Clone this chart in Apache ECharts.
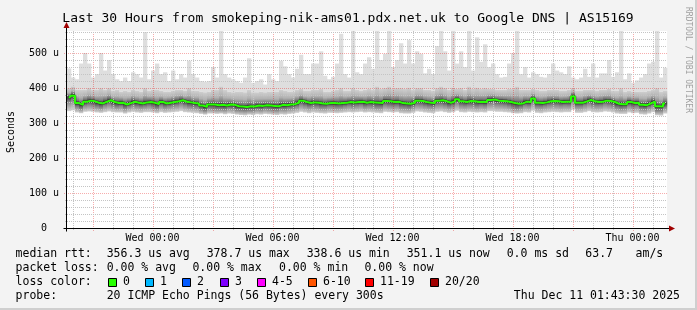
<!DOCTYPE html>
<html><head><meta charset="utf-8">
<script src="https://cdn.jsdelivr.net/npm/echarts@6/dist/echarts.min.js"></script>
<style>html,body{margin:0;padding:0;background:#f3f3f3}#c{width:697px;height:310px}</style>
</head><body><div id="c"></div>
<script>
// time axis: hours counted from Tue 00:00; window = Tue 19:43:30 .. Thu 01:43:30
const START_HOUR = 19.725;
const END_HOUR = 49.725;
const STEP_HOURS = 0.2;
const Y_MAX = 563;

// median rtt (microseconds) per 12-minute slot
const median = [
372,378,357,352,361,364,362,358,356,361,365,360,357,358,353,357,361,358,356,359,360,358,354,360,356,
358,360,362,365,361,359,357,356,350,346,353,353,351,352,350,353,352,348,347,346,348,347,350,349,351,
350,349,348,352,351,353,354,358,364,360,357,359,358,356,355,357,357,356,357,358,360,359,360,361,358,
360,359,358,357,363,362,360,361,357,356,355,358,364,363,360,358,357,364,365,362,358,362,368,362,360,
363,362,360,361,360,366,367,364,363,362,360,357,355,356,361,360,370,358,357,359,362,363,362,360,361,
361,376,358,358,362,366,362,360,361,364,363,360,355,354,354,360,357,358,352,351,356,361,348,347,356];

// upper edge of the dense (dark) smoke
const smokeUpper = [
400,405,395,395,395,400,395,395,400,395,400,392,395,390,392,390,395,392,390,400,392,395,395,392,390,
390,392,395,395,392,400,392,392,390,388,390,395,395,405,395,390,388,390,390,388,395,388,388,390,388,
390,390,390,395,392,390,390,395,398,392,392,395,395,398,390,390,392,395,400,392,392,400,395,392,395,
398,395,405,398,400,405,398,400,400,398,402,395,400,400,395,395,392,400,405,400,395,402,398,400,395,
405,398,402,398,400,398,398,395,395,395,398,398,405,395,395,395,398,395,392,392,395,395,395,392,392,
395,400,392,392,395,395,395,392,395,395,398,392,392,400,390,392,390,390,390,390,392,395,400,390,392];

// highest ping (light smoke top)
const smokeMax = [
456,430,425,470,500,470,430,440,500,450,480,440,425,420,430,420,445,440,430,560,425,450,470,440,445,
420,450,425,440,430,478,440,430,420,418,420,460,430,565,440,430,425,420,415,430,485,415,420,425,410,
440,425,420,478,462,440,430,455,495,440,440,470,470,505,435,425,432,470,555,440,430,565,445,440,470,
488,455,565,480,498,565,460,480,528,470,537,470,505,498,442,455,440,520,565,505,450,565,470,505,460,
565,450,545,475,525,460,470,440,430,432,470,500,565,440,460,430,445,440,432,430,440,470,450,445,440,
462,430,425,430,455,432,470,430,442,442,480,432,445,565,425,442,415,422,430,440,470,475,565,430,458];

// lowest ping (smoke bottom)
const smokeMin = [
334,336,330,328,332,333,332,330,329,331,333,331,330,330,327,330,332,330,329,331,331,330,328,331,329,
330,331,332,334,331,330,329,328,326,324,327,327,326,327,325,327,326,324,323,322,324,323,325,324,326,
325,324,323,325,324,326,327,329,332,330,328,330,329,328,327,329,329,328,329,330,331,330,331,332,330,
331,330,329,328,332,331,330,331,328,327,327,329,333,332,330,329,328,332,333,331,329,331,335,331,330,
332,331,330,331,330,334,334,332,332,331,330,328,327,328,331,330,335,329,328,330,331,332,331,330,331,
331,338,329,329,331,334,331,330,331,333,332,330,327,326,326,330,328,329,325,324,327,331,322,321,327];

const xTickHours = [24, 30, 36, 42, 48];
const xTickLabels = ['Wed 00:00', 'Wed 06:00', 'Wed 12:00', 'Wed 18:00', 'Thu 00:00'];
const yTickValues = [0, 100, 200, 300, 400, 500];
const yTickLabels = ['0  ', '100 u', '200 u', '300 u', '400 u', '500 u'];

const lossColors = ['#26ff00', '#00b8ff', '#0059ff', '#7e00ff', '#ff00ff', '#ff5500', '#ff0000', '#a10000'];
const lossLabels = ['0', '1', '2', '3', '4-5', '6-10', '11-19', '20/20'];

const titleText = 'Last 30 Hours from smokeping-nik-ams01.pdx.net.uk to Google DNS | AS15169';
const statsRtt = ['median rtt:', '356.3 us avg', '378.7 us max', '338.6 us min', '351.1 us now', '0.0 ms sd', '63.7', 'am/s'];
const statsLoss = ['packet loss:', '0.00 % avg', '0.00 % max', '0.00 % min', '0.00 % now'];
const probeText = ['probe:', '20 ICMP Echo Pings (56 Bytes) every 300s', 'Thu Dec 11 01:43:30 2025'];

const MONO = '"DejaVu Sans Mono", monospace';

// ---------- build series data ----------
const slotX = median.map((_, i) => START_HOUR + (i + 0.5) * STEP_HOURS);
const smokeData = median.map((m, i) => [slotX[i], smokeMin[i], m, smokeUpper[i], smokeMax[i]]);
const medianData = median.map((m, i) => [slotX[i], m]);

const vGrid = [];
for (let h = Math.ceil(START_HOUR); h <= END_HOUR; h++) vGrid.push([h, h % 3 === 0 ? 1 : 0]);
const hGrid = [];
for (let v = 20; v <= Y_MAX; v += 20) hGrid.push([v, v % 100 === 0 ? 1 : 0]);

const crisp = p => Math.round(p) + 0.5;

function renderSmoke(params, api) {
  const x = api.value(0), lo = api.value(1), med = api.value(2), up = api.value(3), hi = api.value(4);
  const w = api.size([STEP_HOURS, 0])[0];
  const top = params.coordSys.y;
  const pHi = api.coord([x, hi]), pUp = api.coord([x, up]), pLo = api.coord([x, lo]), pMed = api.coord([x, med]);
  const left = pHi[0] - w / 2;
  const yHi = Math.max(pHi[1], top);
  const f = Math.min(0.95, Math.max(0.05, (pMed[1] - pUp[1]) / (pLo[1] - pUp[1])));
  const grad = new echarts.graphic.LinearGradient(0, 0, 0, 1, [
    { offset: 0, color: '#d0d0d0' },
    { offset: f * 0.5, color: '#b2b2b2' },
    { offset: Math.max(f - 0.12, f * 0.6), color: '#7c7c7c' },
    { offset: f, color: '#444444' },
    { offset: Math.min(f + 0.18, 0.97), color: '#8a8a8a' },
    { offset: 1, color: '#d4d4d4' }
  ]);
  return { type: 'group', children: [
    { type: 'rect', shape: { x: left, y: yHi, width: w + 0.3, height: pUp[1] - yHi }, style: { fill: '#dedede' } },
    { type: 'rect', shape: { x: left, y: pUp[1], width: w + 0.3, height: pLo[1] - pUp[1] }, style: { fill: grad } }
  ] };
}

function renderVGrid(params, api) {
  const h = api.value(0), major = api.value(1);
  const p0 = api.coord([h, 0]), p1 = api.coord([h, Y_MAX]);
  const x = crisp(p0[0]);
  return { type: 'line', shape: { x1: x, y1: p0[1] + (major ? 3 : 2), x2: x, y2: p1[1] },
    style: { stroke: major ? 'rgba(230,0,0,0.32)' : '#c4c4c4', lineWidth: 1, lineDash: [1, 1] } };
}
function renderHGrid(params, api) {
  const v = api.value(0), major = api.value(1);
  const p0 = api.coord([START_HOUR, v]), p1 = api.coord([END_HOUR, v]);
  const y = crisp(p0[1]);
  return { type: 'line', shape: { x1: p0[0] - (major ? 3 : 2), y1: y, x2: p1[0], y2: y },
    style: { stroke: major ? 'rgba(230,0,0,0.32)' : '#c4c4c4', lineWidth: 1, lineDash: [1, 1] } };
}
function renderFrame(params, api) {
  const o = api.coord([START_HOUR, 0]);
  const xe = api.coord([END_HOUR, 0]);
  const ye = api.coord([START_HOUR, Y_MAX]);
  const ox = crisp(o[0]) - 1, oy = crisp(o[1]);
  return { type: 'group', children: [
    { type: 'line', shape: { x1: ox - 3, y1: oy, x2: xe[0] + 3, y2: oy }, style: { stroke: '#000', lineWidth: 1 } },
    { type: 'line', shape: { x1: ox, y1: oy + 3, x2: ox, y2: ye[1] - 4 }, style: { stroke: '#000', lineWidth: 1 } },
    { type: 'polygon', shape: { points: [[xe[0] + 2, oy - 3], [xe[0] + 8, oy], [xe[0] + 2, oy + 3]] }, style: { fill: '#a00000' } },
    { type: 'polygon', shape: { points: [[ox - 3, ye[1] - 3], [ox, ye[1] - 9], [ox + 3, ye[1] - 3]] }, style: { fill: '#a00000' } }
  ] };
}

// ---------- legend graphics ----------
const graphics = [];
const txt = (text, x, y, size, align, extra) => graphics.push(Object.assign({
  type: 'text', x: x, y: y, silent: true,
  style: { text: text, font: size + 'px ' + MONO, fill: '#000', align: align || 'left', verticalAlign: 'middle' }
}, extra || {}));

txt(titleText, 348, 19, 13, 'center');
graphics.push({ type: 'text', x: 11, y: 132, rotation: Math.PI / 2, silent: true,
  style: { text: 'Seconds', font: '10px ' + MONO, fill: '#000', align: 'center', verticalAlign: 'middle' } });
graphics.push({ type: 'text', x: 688, y: 60, rotation: -Math.PI / 2, silent: true,
  style: { text: 'RRDTOOL / TOBI OETIKER', font: '8px ' + MONO, fill: '#a0a0a0', align: 'center', verticalAlign: 'middle' } });

const rttX = [15.6, 106.7, 206.7, 306.7, 406.7, 506.7, 585.3, 635.6];
statsRtt.forEach((t, i) => txt(t, rttX[i], 254.5, 11.5));
const lossX = [15.6, 106.7, 192.4, 279, 364.4];
statsLoss.forEach((t, i) => txt(t, lossX[i], 268.5, 11.5));
txt('loss color:', 15.6, 282.5, 11.5);
const sqX = [108, 145, 182, 219.5, 256.5, 307.5, 365, 430];
lossLabels.forEach((l, i) => {
  graphics.push({ type: 'rect', silent: true, shape: { x: Math.round(sqX[i]) + 0.5, y: 278.5, width: 8, height: 8 },
    style: { fill: lossColors[i], stroke: '#000', lineWidth: 1 } });
  txt(l, Math.round(sqX[i]) + 15, 282.5, 11.5);
});
txt(probeText[0], 15.6, 296.5, 11.5);
txt(probeText[1], 106.7, 296.5, 11.5);
txt(probeText[2], 680, 296.5, 11.5, 'right');
graphics.push({ type: 'rect', silent: true, shape: { x: 695, y: 0, width: 2, height: 310 }, style: { fill: '#cfcfcf' } });
graphics.push({ type: 'rect', silent: true, shape: { x: 0, y: 308, width: 697, height: 2 }, style: { fill: '#cfcfcf' } });

const chart = echarts.init(document.getElementById('c'), null, { renderer: 'canvas' });
chart.setOption({
  animation: false,
  backgroundColor: '#f3f3f3',
  grid: { left: 67, right: 30, top: 31, bottom: 82, show: true, backgroundColor: '#ffffff', borderWidth: 0 },
  xAxis: {
    type: 'value', min: START_HOUR, max: END_HOUR,
    axisLine: { show: false }, axisTick: { show: false }, splitLine: { show: false },
    axisLabel: {
      customValues: xTickHours, margin: 5,
      formatter: v => { const k = xTickHours.indexOf(Math.round(v)); return k >= 0 ? xTickLabels[k] : ''; },
      fontFamily: MONO, fontSize: 10, color: '#000'
    }
  },
  yAxis: {
    type: 'value', min: 0, max: Y_MAX,
    axisLine: { show: false }, axisTick: { show: false }, splitLine: { show: false },
    axisLabel: {
      customValues: yTickValues, margin: 8,
      formatter: v => { const k = yTickValues.indexOf(Math.round(v)); return k >= 0 ? yTickLabels[k] : ''; },
      fontFamily: MONO, fontSize: 10, color: '#000'
    }
  },
  series: [
    { type: 'custom', name: 'smoke', renderItem: renderSmoke, data: smokeData, z: 1, silent: true,
      encode: { x: 0, y: [1, 2, 3, 4] } },
    { type: 'custom', name: 'vgrid', renderItem: renderVGrid, data: vGrid, z: 2, silent: true, encode: { x: 0 } },
    { type: 'custom', name: 'hgrid', renderItem: renderHGrid, data: hGrid, z: 2, silent: true, encode: { y: 0 } },
    { type: 'line', name: 'median shadow', data: medianData, step: 'middle', symbol: 'none', z: 3, silent: true,
      lineStyle: { color: 'rgba(0,0,0,0.4)', width: 3 } },
    { type: 'line', name: 'median rtt', data: medianData, step: 'middle', symbol: 'none', z: 4, silent: true,
      lineStyle: { color: '#26ff00', width: 2 } },
    { type: 'custom', name: 'frame', renderItem: renderFrame, data: [[START_HOUR, 0]], z: 5, silent: true,
      encode: { x: 0, y: 1 } }
  ],
  graphic: graphics
});
</script>
</body></html>
